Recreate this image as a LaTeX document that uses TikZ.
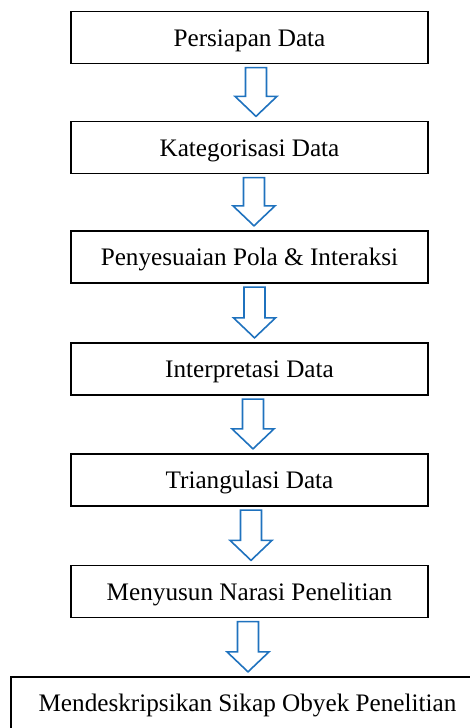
\documentclass[tikz,border=0pt]{standalone}
\usepackage{fontspec}
\setmainfont{Liberation Serif}
\usetikzlibrary{calc}

\definecolor{arrowblue}{HTML}{1F72BE}

\tikzset{
  stepbox/.style={draw, line width=1.3pt, minimum width=357pt, minimum height=52pt,
    inner sep=0pt, text height=17pt, text depth=0pt, font=\fontsize{25.2}{30}\selectfont},
  hollowarrow/.style={draw=arrowblue, line width=1.6pt, line join=miter, fill=white}
}

% hollow block arrow from box #1 down to box #2, shifted by #3
\newcommand{\flowarrow}[3]{%
  \path ($(#1.south)+(#3,3.5)$) coordinate (top)
        ($(#2.north)+(#3,-4.5)$) coordinate (tipy);
  \coordinate (tip) at (top |- tipy);
  \draw[hollowarrow] ($(top)+(-10.5,0)$) -- ($(top)+(10.5,0)$)
    -- ($(tip)+(10.5,-20)$) -- ($(tip)+(21,-20)$) -- (tip)
    -- ($(tip)+(-21,-20)$) -- ($(tip)+(-10.5,-20)$) -- cycle;
}

\begin{document}
\begin{tikzpicture}[x=1pt, y=-1pt]

\useasboundingbox (0,0) rectangle (470,728);
\clip (0,0) rectangle (470,728);

% steps
\foreach \y/\name/\txt in {37.5/persiapan/Persiapan Data,
  147.5/kategori/Kategorisasi Data,
  257/pola/Penyesuaian Pola \& Interaksi,
  369/interpretasi/Interpretasi Data,
  480/triangulasi/Triangulasi Data,
  591.5/narasi/Menyusun Narasi Penelitian}
\node[stepbox] (\name) at (249.5,\y) {\txt};

% last step, wider than the page
\node[stepbox, minimum width=473pt] (sikap) at (247.5,703) {Mendeskripsikan Sikap Obyek Penelitian};

% arrows between steps
\foreach \a/\b/\dx in {persiapan/kategori/6.5, kategori/pola/4.5, pola/interpretasi/5,
  interpretasi/triangulasi/3.5, triangulasi/narasi/1.5, narasi/sikap/-1.5}
\flowarrow{\a}{\b}{\dx};

\end{tikzpicture}
\end{document}
